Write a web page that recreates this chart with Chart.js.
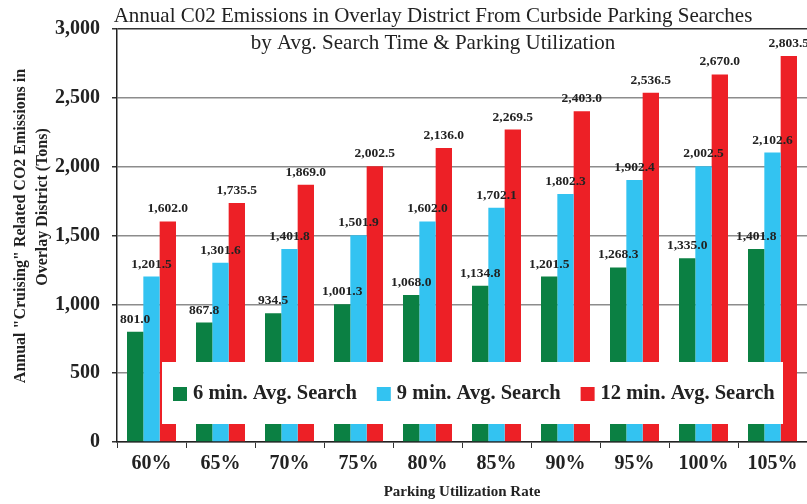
<!DOCTYPE html>
<html><head><meta charset="utf-8">
<script src="https://cdn.jsdelivr.net/npm/chart.js@4/dist/chart.umd.min.js"></script>
<style>html,body{margin:0;padding:0;background:#fff}#wrap{width:807px;height:504px}</style>
</head><body><div id="wrap"><canvas id="c" width="807" height="504"></canvas></div>
<script>
const categories = ['60%','65%','70%','75%','80%','85%','90%','95%','100%','105%'];
const search6 = [801.0, 867.8, 934.5, 1001.3, 1068.0, 1134.8, 1201.5, 1268.3, 1335.0, 1401.8];
const search9 = [1201.5, 1301.6, 1401.8, 1501.9, 1602.0, 1702.1, 1802.3, 1902.4, 2002.5, 2102.6];
const search12 = [1602.0, 1735.5, 1869.0, 2002.5, 2136.0, 2269.5, 2403.0, 2536.5, 2670.0, 2803.5];
const seriesNames = ['6 min. Avg. Search', '9 min. Avg. Search', '12 min. Avg. Search'];
const seriesColors = ['#0b8043', '#33c3f1', '#ed2026'];
const titleLines = ['Annual C02 Emissions in Overlay District From Curbside Parking Searches', 'by Avg. Search Time & Parking Utilization'];
const yTitleLines = ['Annual "Cruising" Related CO2 Emissions in', 'Overlay District (Tons)'];
const xTitle = 'Parking Utilization Rate';

const SERIF = "'Liberation Serif', 'Times New Roman', serif";
const fmt1 = v => v.toLocaleString('en-US', {minimumFractionDigits: 1, maximumFractionDigits: 1});

const overlay = {
  id: 'overlay',
  afterDatasetsDraw(chart) {
    const ctx = chart.ctx;
    const ca = chart.chartArea;
    // data labels
    ctx.save();
    ctx.font = 'bold 13.5px ' + SERIF;
    ctx.fillStyle = '#222';
    ctx.textAlign = 'center';
    ctx.textBaseline = 'alphabetic';
    chart.data.datasets.forEach((ds, di) => {
      const meta = chart.getDatasetMeta(di);
      meta.data.forEach((el, i) => {
        ctx.fillText(fmt1(ds.data[i]), el.x, el.y - 9);
      });
    });
    // legend box
    const bx = ca.left + 45, by = ca.bottom - 80, bw = 621, bh = 62;
    ctx.fillStyle = '#fff';
    ctx.fillRect(bx, by, bw, bh);
    ctx.font = 'bold 20.5px ' + SERIF;
    ctx.textAlign = 'left';
    ctx.textBaseline = 'middle';
    let x = bx + 11;
    const cy = by + 32;
    chart.data.datasets.forEach((ds, di) => {
      ctx.fillStyle = ds.backgroundColor;
      ctx.fillRect(x, cy - 7, 14, 14);
      ctx.fillStyle = '#222';
      ctx.fillText(ds.label, x + 20, cy);
      x += 20 + ctx.measureText(ds.label).width + 20;
    });
    ctx.restore();
  },
  afterDraw(chart) {
    const ctx = chart.ctx;
    const ca = chart.chartArea;
    ctx.save();
    ctx.fillStyle = '#222';
    ctx.textAlign = 'center';
    ctx.textBaseline = 'middle';
    ctx.font = '21px ' + SERIF;
    const tx = 433;
    ctx.fillText(titleLines[0], tx, 16);
    ctx.fillText(titleLines[1], tx, 43);
    ctx.font = 'bold 15px ' + SERIF;
    ctx.fillText(xTitle, (ca.left + ca.right) / 2, 492);
    ctx.font = 'bold 16px ' + SERIF;
    ctx.save(); ctx.translate(21, 226); ctx.rotate(-Math.PI / 2); ctx.fillText(yTitleLines[0], 0, 0); ctx.restore();
    ctx.save(); ctx.translate(43, 207); ctx.rotate(-Math.PI / 2); ctx.fillText(yTitleLines[1], 0, 0); ctx.restore();
    ctx.restore();
  }
};

new Chart(document.getElementById('c'), {
  type: 'bar',
  data: {
    labels: categories,
    datasets: [
      {label: seriesNames[0], data: search6, backgroundColor: seriesColors[0]},
      {label: seriesNames[1], data: search9, backgroundColor: seriesColors[1]},
      {label: seriesNames[2], data: search12, backgroundColor: seriesColors[2]}
    ]
  },
  options: {
    responsive: false,
    devicePixelRatio: 1,
    animation: false,
    layout: {padding: {top: 29, left: 0, right: 0, bottom: 0}},
    datasets: {bar: {categoryPercentage: 0.71, barPercentage: 1.0}},
    plugins: {legend: {display: false}, title: {display: false}, tooltip: {enabled: false}},
    scales: {
      x: {
        offset: true,
        grid: {display: true, drawOnChartArea: false, drawTicks: true, tickLength: 6, color: '#333', offset: true},
        border: {color: '#222', width: 1.5},
        ticks: {font: {family: SERIF, size: 20, weight: 'bold'}, color: '#222', padding: 4, maxRotation: 0, autoSkip: false},
        afterFit(s) { s.height = 62; }
      },
      y: {
        min: 0, max: 3000,
        ticks: {stepSize: 500, font: {family: SERIF, size: 20, weight: 'bold'}, color: '#222', padding: 12,
          callback: v => v.toLocaleString('en-US')},
        grid: {color: c => (c.tick && c.tick.value === 3000) ? '#333' : '#8c8c8c', lineWidth: 1.5, tickColor: '#333', tickLength: 5},
        border: {color: '#222', width: 1.5},
        afterFit(s) { s.width = 117; }
      }
    }
  },
  plugins: [overlay]
});
</script>
</body></html>
